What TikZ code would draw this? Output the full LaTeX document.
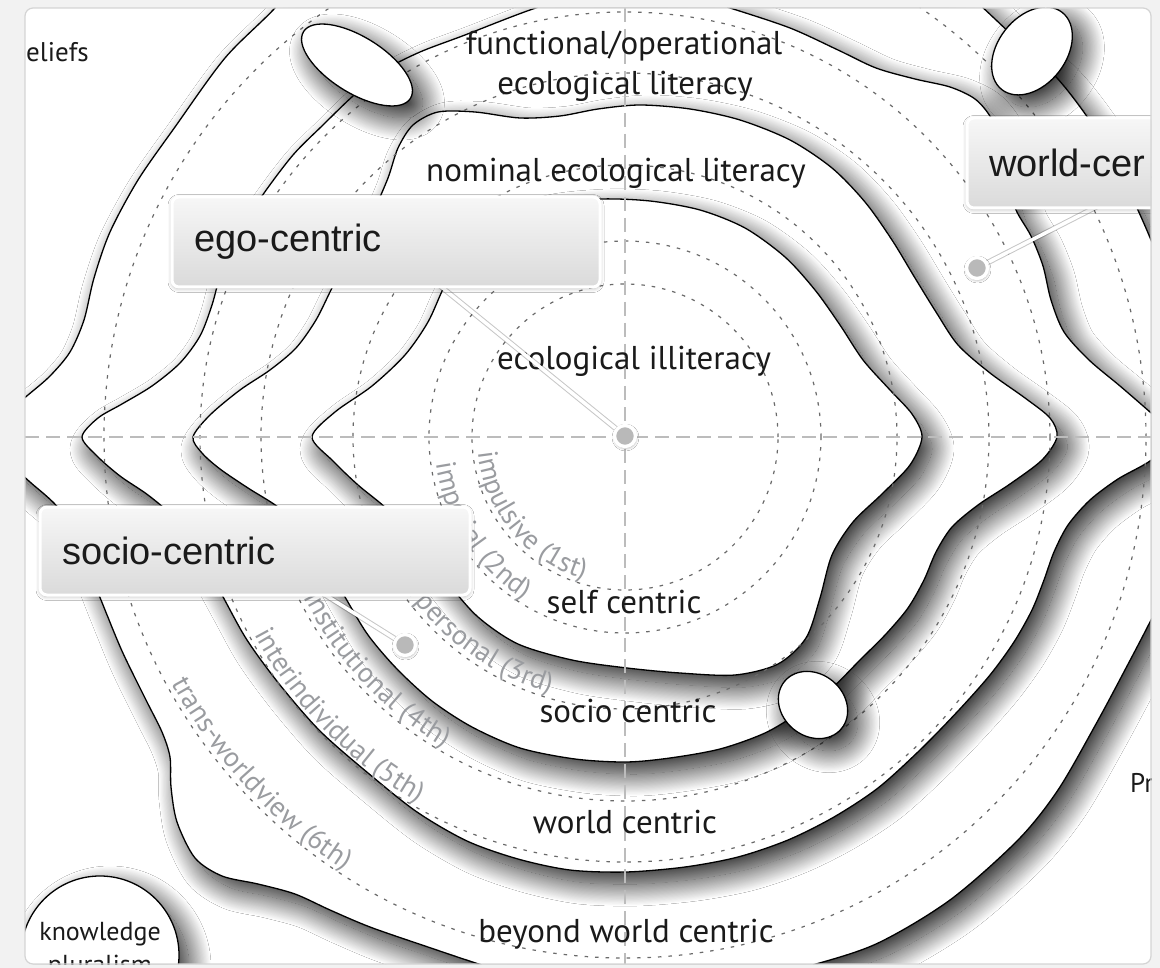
\documentclass[tikz,border=0pt]{standalone}
\usepackage{fontspec}
\newfontfamily\myr{PT Sans}
\newfontfamily\ari{Liberation Sans}
\usetikzlibrary{shapes.geometric,shadows.blur,decorations.text}
\definecolor{txt}{HTML}{1A1A1A}
\definecolor{stage}{HTML}{9A9CA0}
\definecolor{dsh}{HTML}{6A6A6A}
\definecolor{axisc}{HTML}{BCBCBC}
\definecolor{bgc}{HTML}{F2F2F2}
\definecolor{panelline}{HTML}{D4D4D4}
\definecolor{boxtop}{HTML}{F7F7F7}
\definecolor{boxbot}{HTML}{DADADA}
\newcommand\stagefont{\myr\fontsize{28}{32}\selectfont\color{stage}}
\newcommand\arclabel[4]{%
  \path[decorate, decoration={text along path, text={|\stagefont|#4}}]
    plot[domain=#2:#3, samples=120] ({625+#1*cos(\x)},{437+#1*sin(\x)});}
\begin{document}
\begin{tikzpicture}[x=1pt,y=-1pt,
  layer/.style={fill=white, draw=black, line width=1.3pt,
    blur shadow={shadow xshift=10pt, shadow yshift=-12pt, shadow blur radius=22pt, shadow blur steps=40, shadow opacity=88}},
  dashc/.style={draw=dsh, line width=1.2pt, dash pattern=on 3.5pt off 7pt},
  axisline/.style={draw=axisc, line width=1.3pt, dash pattern=on 14pt off 7pt},
  lbl/.style={font=\myr\fontsize{33}{38}\selectfont, text=txt, anchor=base, inner sep=0pt},
  outer/.style={font=\myr\fontsize{27}{32}\selectfont, text=txt, anchor=base, inner sep=0pt},
  cbox/.style={draw=white, line width=3pt, rounded corners=7pt, top color=boxtop, bottom color=boxbot,
    minimum height=90pt, inner xsep=22pt, align=left, font=\ari\fontsize{38}{44}\selectfont, text=txt,
    blur shadow={shadow xshift=0pt, shadow yshift=-1.5pt, shadow blur radius=4pt, shadow opacity=30}},
  dotn/.style={circle, fill=gray!55, draw=white, line width=3.4pt, minimum size=21pt, inner sep=0pt,
    blur shadow={shadow xshift=0.5pt, shadow yshift=-1.5pt, shadow blur radius=3pt, shadow opacity=40}},
  connsh/.style={draw=black, opacity=0.22, line width=5.5pt},
  conn/.style={draw=white, line width=3.5pt}
]
\useasboundingbox (0,0) rectangle (1160,968);
\fill[bgc] (0,0) rectangle (1160,968);
\fill[white, rounded corners=8pt] (25,8) rectangle (1151,964);
\begin{scope}
\clip[rounded corners=8pt] (25,8) rectangle (1151,964);
% L4 outermost
\path[layer] plot[smooth cycle, tension=0.5] coordinates {
 (-20,437) (5,414) (28,395) (50,376) (70,352) (84,320) (94,278) (110,232) (138,180) (175,127) (225,58) (275,8)
 (325,-50) (420,-115) (620,-150) (820,-110) (930,-40) (980,5) (1015,38) (1057,78) (1088,118) (1115,162) (1137,208)
 (1155,250) (1185,330) (1205,437) (1185,550) (1152,618) (1126,668) (1096,724) (1058,790) (1018,840) (950,900)
 (876,944) (802,968) (700,995) (580,995) (485,966) (425,946) (370,927) (330,910) (295,894) (258,884) (222,876)
 (195,858) (177,822) (171,787) (170,757) (162,732) (146,700) (122,651) (101,600) (82,553) (60,510) (30,482) (5,460)};
\node[layer, circle, minimum size=158pt, inner sep=0pt] (kp) at (100,955) {};
% L3
\path[layer] plot[smooth cycle, tension=0.5] coordinates {
 (82,437) (98,418) (122,404) (152,386) (180,363) (200,336) (212,305) (222,270) (240,232) (262,196) (293,155)
 (323,125) (353,96) (385,70) (420,52) (465,35) (530,10) (600,-12) (670,-10) (730,8) (790,28) (838,50) (876,68)
 (915,79) (950,87) (975,99) (991,118) (1000,146) (1007,180) (1016,210) (1031,236) (1043,266) (1051,300) (1064,332)
 (1089,360) (1120,386) (1150,412) (1178,437) (1150,461) (1118,479) (1090,500) (1068,525) (1054,552) (1044,580)
 (1032,610) (1014,642) (990,675) (958,711) (920,750) (878,788) (834,817) (788,840) (738,857) (685,867) (626,872)
 (570,870) (518,859) (467,841) (417,812) (368,773) (320,731) (280,685) (247,640) (222,595) (197,550) (172,516)
 (148,495) (120,476) (97,456)};
% L2
\path[layer] plot[smooth cycle, tension=0.5] coordinates {
 (193,437) (210,415) (240,390) (270,370) (296,348) (316,320) (332,288) (352,250) (373,212) (388,178) (398,148)
 (413,125) (438,112) (475,112) (520,118) (560,116) (598,109) (640,105) (690,109) (740,120) (790,140) (832,168)
 (865,202) (892,240) (915,278) (936,312) (958,345) (990,373) (1025,398) (1050,418) (1057,437) (1042,460)
 (1010,484) (978,505) (952,527) (936,552) (924,580) (908,608) (886,634) (860,660) (832,688) (800,712) (765,733)
 (720,749) (670,758) (626,762) (575,759) (520,748) (472,727) (432,701) (397,669) (368,635) (345,597) (325,562)
 (303,530) (278,507) (248,488) (220,469) (202,453)};
% L1
\path[layer] plot[smooth cycle, tension=0.5] coordinates {
 (312,437) (335,412) (372,386) (405,355) (428,322) (445,285) (468,246) (500,219) (545,204) (600,199) (650,201)
 (700,210) (745,228) (785,257) (815,290) (840,325) (863,360) (890,390) (912,414) (922,437) (910,465) (882,494)
 (853,522) (832,555) (820,598) (806,638) (778,664) (735,675) (680,673) (627,668) (572,660) (518,644) (478,617)
 (447,582) (418,545) (388,510) (358,485) (333,461)};
% dashed circles
\foreach \r in {153,196,272,364,425,521} \draw[dashc] (625,437) circle[radius=\r pt];
% axes
\coordinate (axL) at (25,437); \coordinate (axR) at (1151,437);
\coordinate (axT) at (625,8); \coordinate (axB) at (625,964);
\draw[axisline] (axL) -- (axR);
\draw[axisline] (axT) -- (axB);
% ellipses
\node[layer, ellipse, minimum width=126pt, minimum height=56pt, rotate=-32, inner sep=0pt] (e1) at (357,65) {};
\node[layer, ellipse, minimum width=98pt, minimum height=68pt, rotate=52, inner sep=0pt] (e2) at (1032,51) {};
\node[layer, ellipse, minimum width=74pt, minimum height=62pt, rotate=-40, inner sep=0pt] (e3) at (813,705) {};
% stage labels along arcs
\arclabel{148}{174}{55}{impulsive (1st)}
\arclabel{191}{172}{55}{imperial (2nd)}
\arclabel{267}{154}{55}{interpersonal (3rd)}
\arclabel{359}{153.5}{60}{institutional (4th)}
\arclabel{420}{152}{70}{interindividual (5th)}
\arclabel{516}{151.5}{80}{trans-worldview (6th)}
% main labels
\node[lbl] (fo) at (624,55) {functional/operational};
\node[lbl] (fl) at (625,95) {ecological literacy};
\node[lbl] (nl) at (616,182) {nominal ecological literacy};
\node[lbl] (il) at (634,370) {ecological illiteracy};
\node[lbl] (sc) at (624,613) {self centric};
\node[lbl] (soc) at (628,722) {socio centric};
\node[lbl] (wc) at (625,833) {world centric};
\node[lbl] (bwc) at (626,942) {beyond world centric};
\node[outer, anchor=base west] (bel) at (26,62) {eliefs};
\node[outer, anchor=base west] (pr) at (1130,792) {Pr};
\node[outer, font=\myr\fontsize{26}{30}\selectfont] (kn1) at (100,940) {knowledge};
\node[outer, font=\myr\fontsize{26}{30}\selectfont] (kn2) at (100,973) {pluralism};
% connectors
\coordinate (egoc) at (386,242); \coordinate (egop) at (625,436);
\coordinate (socc) at (255,551); \coordinate (socp) at (405,645);
\coordinate (wldc) at (1182,163); \coordinate (wldp) at (977,268);
\draw[connsh] (egop) -- (egoc); \draw[conn] (egop) -- (egoc);
\draw[connsh] (socp) -- (socc); \draw[conn] (socp) -- (socc);
\draw[connsh] (wldp) -- (wldc); \draw[conn] (wldp) -- (wldc);
\node[dotn] (egodot) at (egop) {};
\node[dotn] (socdot) at (socp) {};
\node[dotn] (wlddot) at (wldp) {};
% boxes
\node[cbox, minimum width=428pt, text width=384pt] (egobox) at (egoc) {ego-centric};
\node[cbox, minimum width=430pt, text width=386pt, minimum height=88pt] (socbox) at (socc) {socio-centric};
\node[cbox, minimum width=430pt, text width=386pt] (wldbox) at (wldc) {world-cer};
\end{scope}
\draw[panelline, line width=1.2pt, rounded corners=8pt] (25,8) rectangle (1151,964);
\end{tikzpicture}
\end{document}
